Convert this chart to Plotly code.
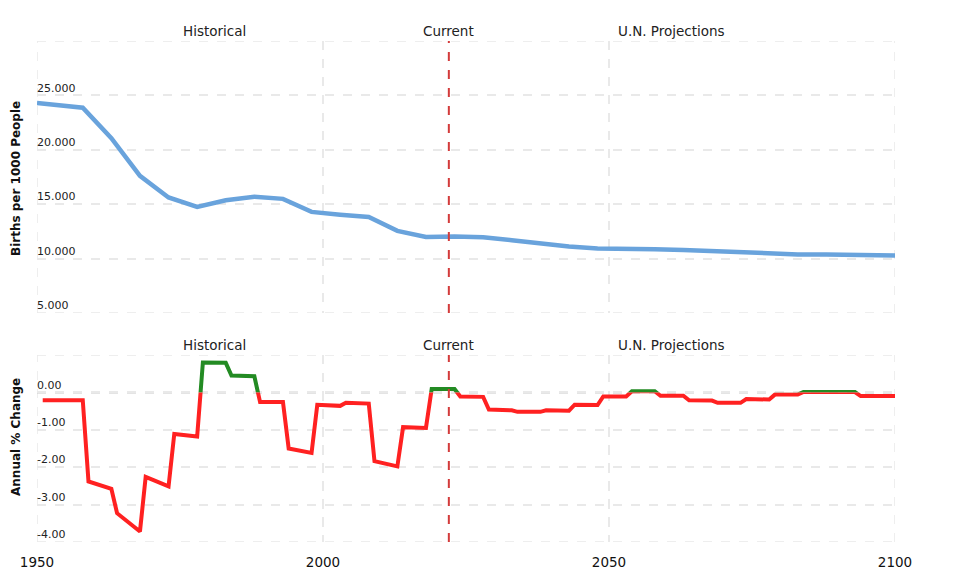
import plotly.graph_objects as go

# ---- data ----
birth_years = [1950, 1958, 1963, 1968, 1973, 1978, 1983, 1988, 1993, 1998,
               2003, 2008, 2013, 2018, 2023, 2028, 2033, 2038, 2043, 2048,
               2053, 2058, 2063, 2068, 2073, 2078, 2083, 2088, 2093, 2100]
birth_rate = [24.30, 23.87, 21.07, 17.60, 15.62, 14.75, 15.36, 15.69, 15.49, 14.29,
              14.04, 13.83, 12.55, 11.98, 12.04, 11.97, 11.69, 11.39, 11.11, 10.92,
              10.84, 10.85, 10.80, 10.68, 10.53, 10.43, 10.38, 10.38, 10.37, 10.28]

change_years = [1951, 1958, 1959, 1963, 1964, 1968, 1969, 1973, 1974, 1978,
                1979, 1983, 1984, 1988, 1989, 1993, 1994, 1998, 1999, 2003,
                2004, 2008, 2009, 2013, 2014, 2018, 2019, 2023, 2024, 2028,
                2029, 2033, 2034, 2038, 2039, 2043, 2044, 2048, 2049, 2053,
                2054, 2058, 2059, 2063, 2064, 2068, 2069, 2073, 2074, 2078,
                2079, 2083, 2084, 2093, 2094, 2100]
annual_change = [-0.21, -0.21, -2.38, -2.58, -3.23, -3.72, -2.26, -2.51, -1.11, -1.18,
                 0.80, 0.79, 0.45, 0.43, -0.26, -0.26, -1.50, -1.62, -0.33, -0.36,
                 -0.28, -0.30, -1.84, -1.98, -0.93, -0.95, 0.09, 0.09, -0.11, -0.12,
                 -0.46, -0.48, -0.52, -0.52, -0.48, -0.49, -0.33, -0.34, -0.11, -0.11,
                 0.03, 0.03, -0.09, -0.09, -0.21, -0.22, -0.28, -0.28, -0.18, -0.19,
                 -0.06, -0.06, 0.01, 0.01, -0.10, -0.10]

x_ticks = [1950, 2000, 2050, 2100]
top_ticks = [5, 10, 15, 20, 25, 30]
top_ticktext = ["5.000", "10.000", "15.000", "20.000", "25.000", ""]
bot_ticks = [-4, -3, -2, -1, 0, 1]
bot_ticktext = ["-4.00", "-3.00", "-2.00", "-1.00", "0.00", ""]
current_year = 2022
period_labels = ["Historical", "Current", "U.N. Projections"]
period_label_x = [1981, 2022, 2061]

FONT = "DejaVu Sans"
GRID = "#e9e9e9"
BLUE = "#69a3dc"
RED = "#ff2121"
GREEN = "#238b23"
CLEAR = "rgba(0,0,0,0)"

fig = go.Figure()

fig.add_trace(go.Scatter(x=birth_years, y=birth_rate, mode="lines",
                         line=dict(color=BLUE, width=4.5),
                         xaxis="x", yaxis="y", hoverinfo="skip", showlegend=False))
# invisible carriers so the lower panel's axes/grid and the year labels are drawn
fig.add_trace(go.Scatter(x=change_years, y=annual_change, mode="lines", opacity=0,
                         line=dict(width=0), xaxis="x2", yaxis="y2",
                         hoverinfo="skip", showlegend=False))
fig.add_trace(go.Scatter(x=change_years, y=annual_change, mode="lines", opacity=0,
                         line=dict(width=0), xaxis="x5", yaxis="y4",
                         hoverinfo="skip", showlegend=False))
# red part (clipped to negative area), green part (clipped to positive area)
fig.add_trace(go.Scatter(x=change_years, y=annual_change, mode="lines",
                         line=dict(color=RED, width=4),
                         xaxis="x2", yaxis="y4", hoverinfo="skip", showlegend=False))
fig.add_trace(go.Scatter(x=change_years, y=annual_change, mode="lines",
                         line=dict(color=GREEN, width=4),
                         xaxis="x2", yaxis="y3", hoverinfo="skip", showlegend=False))

top_dom = [0.4571, 1.0]
bot_dom = [0.0, 0.3733]
zero_frac = bot_dom[0] + (bot_dom[1] - bot_dom[0]) * 4 / 5

xcommon = dict(range=[1950, 2100], tickvals=x_ticks, showgrid=True, gridcolor=GRID,
               griddash="dash", gridwidth=1.5, zeroline=False, showline=False)
ycommon = dict(ticklabelposition="inside top", showgrid=True, gridcolor=GRID,
               griddash="dash", gridwidth=1.5, zeroline=False, showline=False,
               tickfont=dict(size=11, color="#222"), ticklabelstandoff=-3)

# page body adds an 8px offset; margins compensate
fig.update_layout(
    width=978, height=578,
    margin=dict(l=26, r=91, t=33, b=44),
    paper_bgcolor="white", plot_bgcolor=CLEAR,
    font=dict(family=FONT, color="#222"),
    xaxis=dict(**xcommon, domain=[0, 1], anchor="y", showticklabels=False),
    xaxis2=dict(**xcommon, domain=[0, 1], anchor="y2", showticklabels=False),
    xaxis5=dict(range=[1950, 2100], tickvals=x_ticks, domain=[0, 1], anchor="y4",
                showgrid=False, zeroline=False, showline=False,
                ticks="outside", ticklen=8, tickcolor=CLEAR,
                tickfont=dict(size=13.5, color="#111")),
    yaxis=dict(**ycommon, domain=top_dom, range=[5, 30], tickvals=top_ticks,
               ticktext=top_ticktext, anchor="x"),
    yaxis2=dict(**ycommon, domain=bot_dom, range=[-4, 1], tickvals=bot_ticks,
                ticktext=bot_ticktext, anchor="x2"),
    yaxis3=dict(domain=[zero_frac, bot_dom[1]], range=[0, 1], visible=False,
                showgrid=False, zeroline=False, anchor="x2"),
    yaxis4=dict(domain=[bot_dom[0], zero_frac], range=[-4, 0], visible=False,
                showgrid=False, zeroline=False, anchor="x5"),
)

grid_line = dict(color=GRID, width=1.5, dash="dash")
shapes = []
# edge gridlines that plotly omits at the range ends
for xr, yr in (("x", "y domain"), ("x2", "y2 domain")):
    for xv in (x_ticks[0], x_ticks[-1]):
        shapes.append(dict(type="line", xref=xr, yref=yr, x0=xv, x1=xv, y0=0, y1=1,
                           line=grid_line, layer="below"))
for yr, (lo, hi) in (("y", (top_ticks[0], top_ticks[-1])), ("y2", (bot_ticks[0], bot_ticks[-1]))):
    for yv in (lo, hi):
        shapes.append(dict(type="line", xref="paper", yref=yr, x0=0, x1=1, y0=yv, y1=yv,
                           line=grid_line, layer="below"))
shapes += [
    dict(type="line", xref="x2 domain", yref="y2", x0=0, x1=1, y0=0, y1=0,
         line=dict(color="#c9c9c9", width=2, dash="dash"), layer="below"),
    dict(type="line", xref="x", yref="y domain", x0=current_year, x1=current_year, y0=0, y1=1,
         line=dict(color="#d33b3b", width=2, dash="dash")),
    dict(type="line", xref="x2", yref="y2 domain", x0=current_year, x1=current_year, y0=0, y1=1,
         line=dict(color="#d33b3b", width=2, dash="dash")),
]
fig.update_layout(shapes=shapes)

ann = []
for lab, xv in zip(period_labels, period_label_x):
    ann.append(dict(text=lab, x=xv, xref="x", y=1.02, yref="paper", showarrow=False,
                    xanchor="center", yanchor="middle", font=dict(size=13.5, color="#222")))
    ann.append(dict(text=lab, x=xv, xref="x", y=0.3932, yref="paper", showarrow=False,
                    xanchor="center", yanchor="middle", font=dict(size=13.5, color="#222")))
ann.append(dict(text="<b>Births per 1000 People</b>", x=-0.0245, xref="paper", y=0.7265,
                yref="paper", textangle=-90, showarrow=False, xanchor="center", yanchor="middle",
                font=dict(size=12, color="#111")))
ann.append(dict(text="<b>Annual % Change</b>", x=-0.0245, xref="paper", y=0.2096,
                yref="paper", textangle=-90, showarrow=False, xanchor="center", yanchor="middle",
                font=dict(size=12, color="#111")))
fig.update_layout(annotations=ann)

fig.write_html("out.html")
